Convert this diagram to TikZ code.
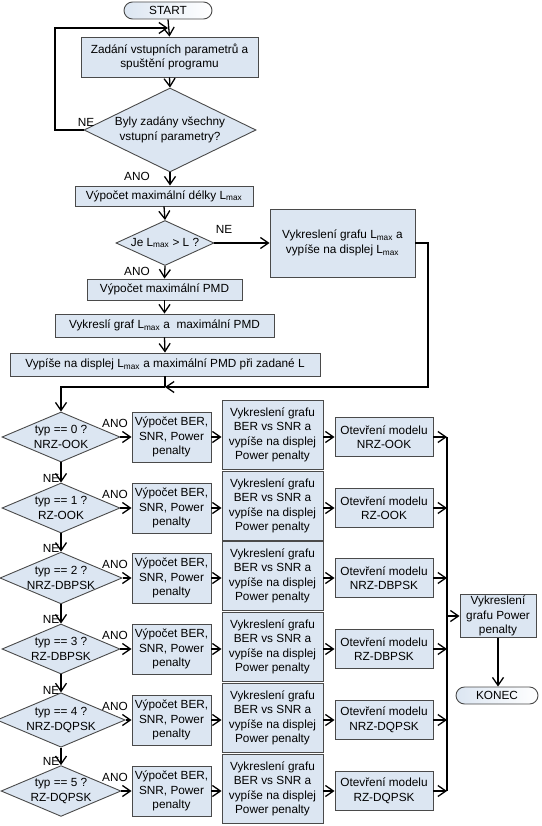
\documentclass[tikz,border=0pt]{standalone}
\usepackage{fontspec}
\setmainfont{Liberation Sans}
\usetikzlibrary{arrows.meta, positioning, shapes.geometric, shapes.misc, calc}
\definecolor{flowFill}{HTML}{DCE6F2}
\definecolor{flowEdge}{HTML}{4A4A4A}
\tikzset{
  arrowK/.style={-{Straight Barb[length=8pt, width=11pt]}, black, line width=1.3pt},
  lineK/.style={black, line width=1.3pt},
  boxP/.style={rectangle, draw=flowEdge, fill=flowFill, line width=0.9pt,
               align=center, inner sep=1pt},
  boxT/.style={rounded rectangle, draw=flowEdge, line width=0.9pt,
               left color=flowFill, right color=white, inner sep=1pt},
  decis/.style={diamond, draw=flowEdge, fill=flowFill, line width=0.9pt,
                align=center, inner sep=0pt},
  lbl/.style={inner sep=1pt},
}

\begin{document}
\begin{tikzpicture}[x=1pt, y=-1pt, font=\fontsize{11.8}{14.5}\selectfont]
    \useasboundingbox (0,0) rectangle (541,826);
    % vstup
    \node[boxT, minimum width=90pt, minimum height=17pt] (start) at (168,10.5) {START};
    \node[boxP, minimum width=177pt, minimum height=40pt] (zad) at (169.5,57)
      {Zadání vstupních parametrů a\\spuštění programu};
    \node[decis, minimum width=172pt, minimum height=84pt, aspect=2] (d1) at (170,130)
      {Byly zadány všechny\\vstupní parametry?};
    \node[boxP, minimum width=178pt, minimum height=20pt] (lmax) at (164,196)
      {Výpočet maximální délky L\textsubscript{max}};
    \node[decis, minimum width=98pt, minimum height=45pt, aspect=2.2] (d2) at (165,243)
      {Je L\textsubscript{max} > L ?};
    \node[boxP, minimum width=145pt, minimum height=68pt] (graf1) at (342.5,243)
      {Vykreslení grafu L\textsubscript{max} a\\vypíše na displej L\textsubscript{max}};
    \node[boxP, minimum width=155pt, minimum height=21pt] (pmd) at (164.5,289.5)
      {Výpočet maximální PMD};
    \node[boxP, minimum width=219pt, minimum height=23pt] (graf2) at (164.5,325.5)
      {Vykreslí graf L\textsubscript{max} a\ \ maximální PMD};
    \node[boxP, minimum width=310pt, minimum height=23pt] (vyp) at (165,364.5)
      {Vypíše na displej L\textsubscript{max} a maximální PMD při zadané L};

    \node[lbl] (ne1) at (86,122) {NE};
    \node[lbl] (ano1) at (137,176) {ANO};
    \node[lbl] (ne2) at (224,229) {NE};
    \node[lbl] (ano2) at (137,271) {ANO};

    \coordinate (lp) at (55,28);
    \coordinate (busR) at (428,387);
    \coordinate (merge) at (165,387);

    \draw[arrowK] (start.south) -- (zad.north);
    \draw[arrowK] (zad.south) -- (d1.north);
    \draw[arrowK] (d1.west) -| (lp) -- (lp -| start.south);
    \draw[arrowK] (d1.south) -- (d1.south |- lmax.north);
    \draw[arrowK] (lmax.south) -- (d2.north);
    \draw[arrowK] (d2.east) -- (graf1.west);
    \draw[arrowK] (d2.south) -- (pmd.north);
    \draw[arrowK] (pmd.south) -- (graf2.north);
    \draw[arrowK] (graf2.south) -- (vyp.north);
    \draw[lineK] (vyp.south) -- (merge);
    \draw[arrowK] (graf1.east) -| (busR) -- (merge);

    % typy modulace
    \foreach \i/\m/\y in {0/NRZ-OOK/437, 1/RZ-OOK/508, 2/NRZ-DBPSK/578,
                          3/RZ-DBPSK/649, 4/NRZ-DQPSK/720, 5/RZ-DQPSK/791} {
      \node[decis, minimum width=118pt, minimum height=50pt, aspect=2.36] (t\i) at (61,\y)
        {typ == \i{} ?\\\m};
      \node[boxP, minimum width=79pt, minimum height=50pt] (ber\i) at (171.5,\y)
        {Výpočet BER,\\SNR, Power\\penalty};
      \node[boxP, minimum width=101pt, minimum height=69pt] (vyk\i) at (272.5,\y-2)
        {Vykreslení grafu\\BER vs SNR a\\vypíše na displej\\Power penalty};
      \node[boxP, minimum width=98pt, minimum height=39pt] (ot\i) at (384,\y)
        {Otevření modelu\\\m};
      \node[lbl] (ano\i) at (115,\y-14) {ANO};
      \draw[arrowK] (t\i.east) -- (ber\i.west);
      \draw[arrowK] (ber\i.east) -- (ber\i.east -| vyk\i.west);
      \draw[arrowK] (vyk\i.east |- ot\i.west) -- (ot\i.west);
      \draw[arrowK] (ot\i.east) -- (ot\i.east -| 447,0);
    }
    \foreach \i/\j/\y in {1/0/508, 2/1/578, 3/2/649, 4/3/720, 5/4/791} {
      \node[lbl] (ne\i) at (51,\y-30) {NE};
      \draw[arrowK] (t\j.south) -- (t\i.north);
    }
    \draw[arrowK] (merge) -| (t0.north);

    % konec
    \coordinate (busTop) at (447,437);
    \coordinate (busBot) at (447,791);
    \draw[lineK] (busTop) -- (busBot);
    \node[boxP, minimum width=76pt, minimum height=42pt] (pp) at (498,616)
      {Vykreslení\\grafu Power\\penalty};
    \node[boxT, minimum width=84pt, minimum height=17pt] (konec) at (497,695.5) {KONEC};
    \draw[arrowK] (pp.west -| busTop) -- (pp.west);
    \draw[arrowK] (pp.south) -- (pp.south |- konec.north);
  \end{tikzpicture}
\end{document}
